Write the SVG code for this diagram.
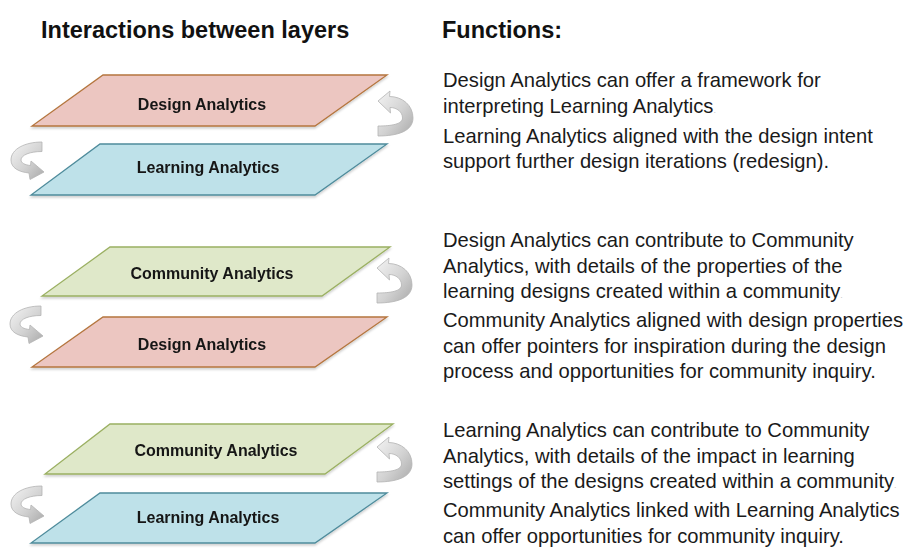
<svg xmlns="http://www.w3.org/2000/svg" width="909" height="551" viewBox="0 0 909 551">
  <defs>
    <style>
      .heading { font-family: "Liberation Sans", Arial, sans-serif; font-weight: bold; font-size: 23.5px; fill: #111; }
      .body { font-family: "Liberation Sans", Arial, sans-serif; font-size: 20.2px; fill: #1a1a1a; }
      .dot { font-size: 9px; fill: #c8c8c8; }
      .label { font-family: "Liberation Sans", Arial, sans-serif; font-weight: bold; font-size: 16px; fill: #151515; text-anchor: middle; }
      .design { fill: #ecc6c1; stroke: #b5763f; stroke-width: 1.3; }
      .learning { fill: #bee1e9; stroke: #4f8c9c; stroke-width: 1.3; }
      .community { fill: #dfe8c9; stroke: #9bb062; stroke-width: 1.3; }
      .turn { fill: url(#turnFill); stroke: #b4b4b4; stroke-width: 0.8; }
    </style>
    <linearGradient id="turnFill" x1="0" y1="0" x2="1" y2="1">
      <stop offset="0" stop-color="#f4f4f4"/>
      <stop offset="0.55" stop-color="#d2d2d2"/>
      <stop offset="1" stop-color="#a9a9a9"/>
    </linearGradient>
    <filter id="soft" x="-5%" y="-10%" width="110%" height="130%">
      <feDropShadow dx="0" dy="2" stdDeviation="1.2" flood-color="#000" flood-opacity="0.18"/>
    </filter>
    <!-- curved return arrow on the right side, tip at (0,0) pointing left -->
    <path id="turnRight" class="turn" d="M0,0 L12,-10 L11.5,-4.5 C24,-4.5 35,4 35,17 C35,30 20,35 0,35 L0,25 C14,25 24.5,23 24.5,17 C24.5,11 19,6.5 12,6.5 L12.5,12 Z"/>
    <!-- curved return arrow on the left side, tail at (0,0), head pointing right -->
    <path id="turnLeft" class="turn" d="M0,0 C-17,0 -31,7 -31,18 C-31,26 -23,30 -13,31 L-12,37.5 L2,30 L-11,19 L-11.5,23.5 C-17,23 -21,21 -21,18 C-21,13 -12,9.5 0,9.5 Z"/>
  </defs>

  <!-- headings -->
  <text class="heading" x="41" y="38">Interactions between layers</text>
  <text class="heading" x="442" y="38">Functions:</text>

  <!-- layer pair 1 -->
  <g id="pair1-design" filter="url(#soft)">
    <polygon class="design" points="103,75 387,75 315,126 32,126"/>
    <text class="label" x="202" y="110">Design Analytics</text>
  </g>
  <g id="pair1-learning" filter="url(#soft)">
    <polygon class="learning" points="100,144 387,144 315,195 31,195"/>
    <text class="label" x="208" y="173">Learning Analytics</text>
  </g>

  <!-- layer pair 2 -->
  <g id="pair2-community" filter="url(#soft)">
    <polygon class="community" points="110,247 390,247 322,296 42,296"/>
    <text class="label" x="212" y="279">Community Analytics</text>
  </g>
  <g id="pair2-design" filter="url(#soft)">
    <polygon class="design" points="103,317 387,317 315,367 32,367"/>
    <text class="label" x="202" y="350">Design Analytics</text>
  </g>

  <!-- layer pair 3 -->
  <g id="pair3-community" filter="url(#soft)">
    <polygon class="community" points="110,424 393,424 325,474 45,474"/>
    <text class="label" x="216" y="456">Community Analytics</text>
  </g>
  <g id="pair3-learning" filter="url(#soft)">
    <polygon class="learning" points="100,493 387,493 315,543 31,543"/>
    <text class="label" x="208" y="523">Learning Analytics</text>
  </g>

  <!-- connectors: curved arrows between layers -->
  <g id="connectors">
    <use href="#turnRight" transform="translate(378,101)"/>
    <use href="#turnLeft" transform="translate(42,142)"/>
    <use href="#turnRight" transform="translate(377,268)"/>
    <use href="#turnLeft" transform="translate(41,306)"/>
    <use href="#turnRight" transform="translate(377,447)"/>
    <use href="#turnLeft" transform="translate(42,486)"/>
  </g>

  <!-- function descriptions -->
  <g id="functions1">
    <text class="body" x="443" y="87">Design Analytics can offer a framework for</text>
    <text class="body" x="443" y="113">interpreting Learning Analytics<tspan class="dot">.</tspan></text>
    <text class="body" x="443" y="143">Learning Analytics aligned with the design intent</text>
    <text class="body" x="443" y="168">support further design iterations (redesign).</text>
  </g>
  <g id="functions2">
    <text class="body" x="443" y="247">Design Analytics can contribute to Community</text>
    <text class="body" x="443" y="273">Analytics, with details of the properties of the</text>
    <text class="body" x="443" y="298">learning designs created within a community<tspan class="dot">.</tspan></text>
    <text class="body" x="443" y="327">Community Analytics aligned with design properties</text>
    <text class="body" x="443" y="353">can offer pointers for inspiration during the design</text>
    <text class="body" x="443" y="378">process and opportunities for community inquiry.</text>
  </g>
  <g id="functions3">
    <text class="body" x="443" y="437">Learning Analytics can contribute to Community</text>
    <text class="body" x="443" y="463">Analytics, with details of the impact in learning</text>
    <text class="body" x="443" y="488">settings of the designs created within a community<tspan class="dot">.</tspan></text>
    <text class="body" x="443" y="517">Community Analytics linked with Learning Analytics</text>
    <text class="body" x="443" y="543">can offer opportunities for community inquiry.</text>
  </g>
</svg>
